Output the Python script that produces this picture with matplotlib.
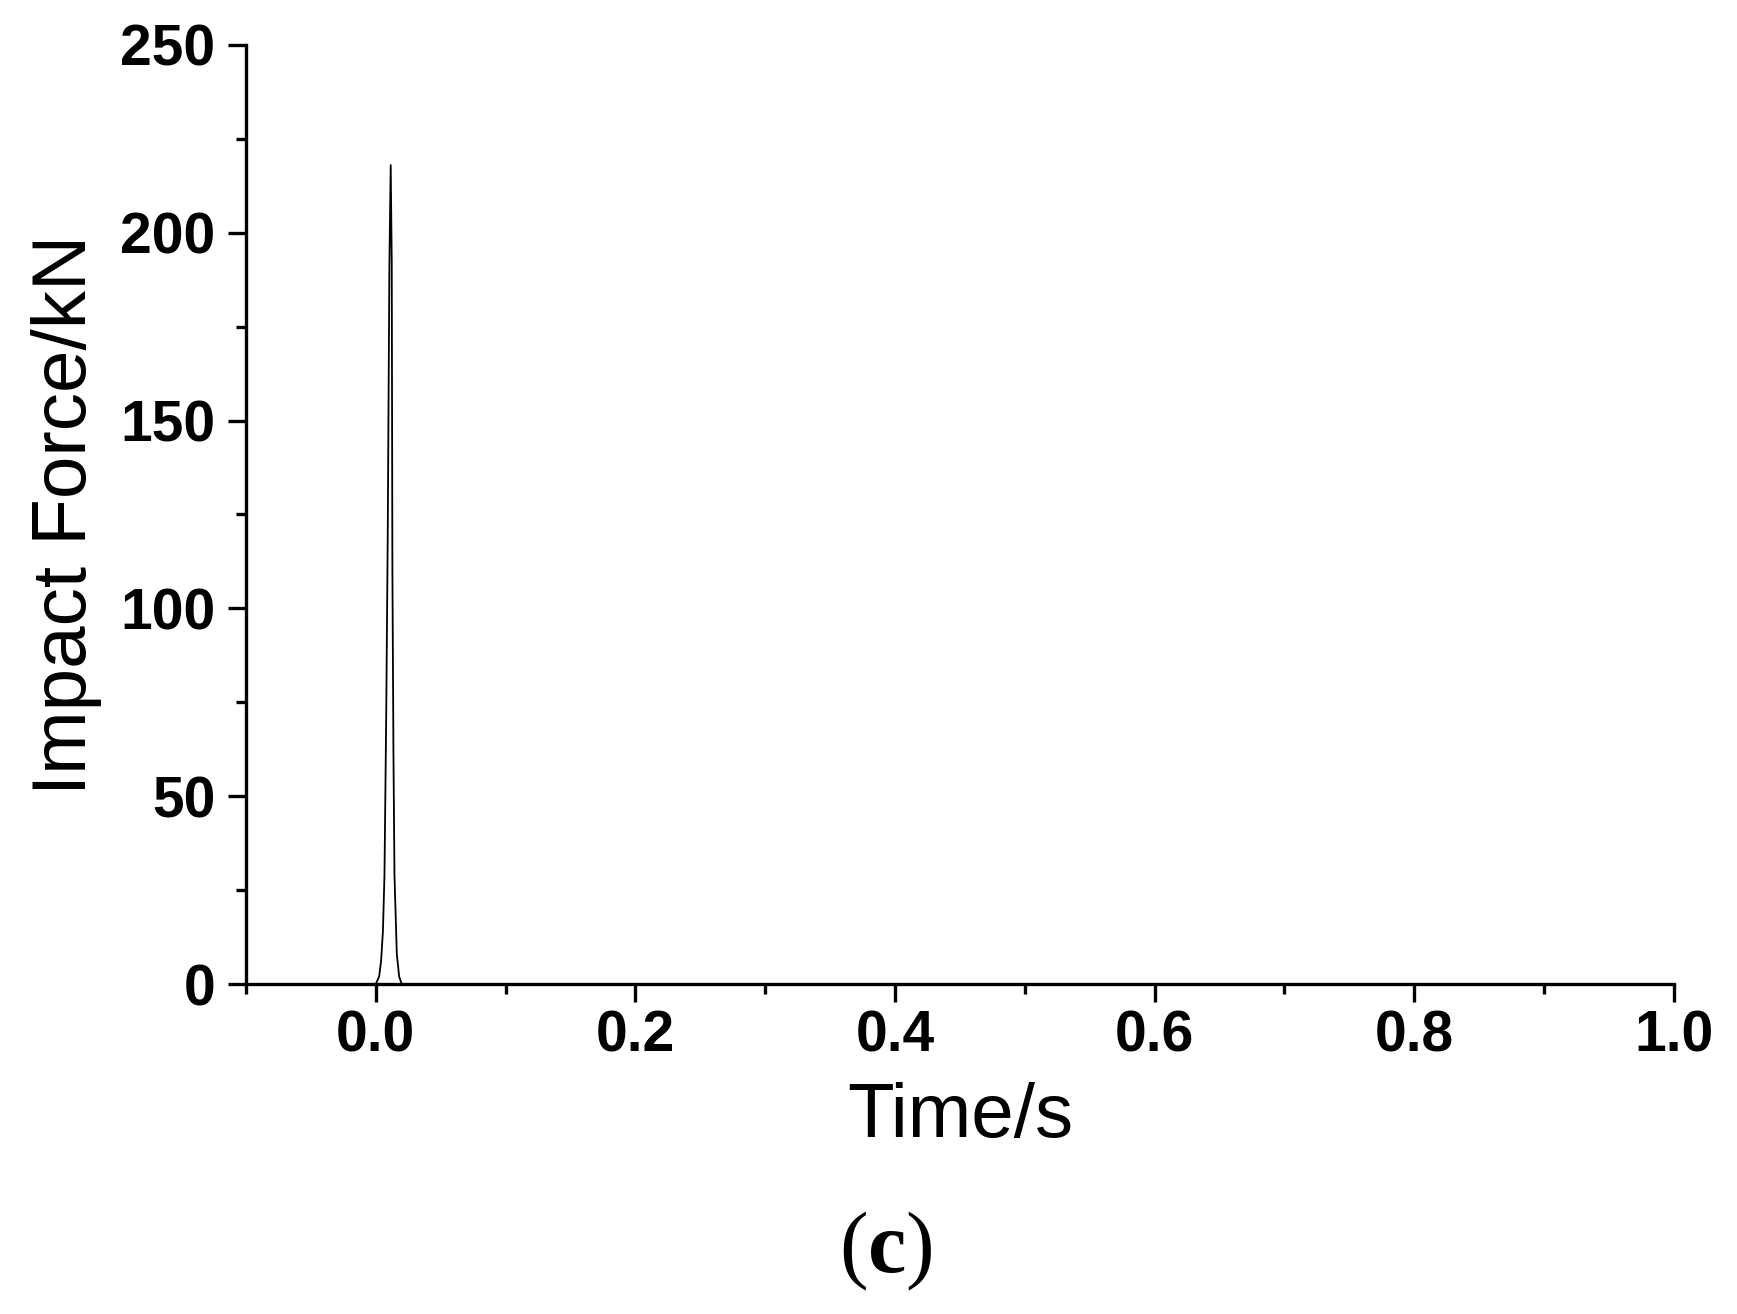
import numpy as np
import matplotlib
matplotlib.use('Agg')
import matplotlib.pyplot as plt
from matplotlib.ticker import MultipleLocator

plt.rcParams['mathtext.fontset'] = 'custom'
plt.rcParams['mathtext.rm'] = 'Liberation Serif'
plt.rcParams['mathtext.bf'] = 'Liberation Serif:bold'

# impact force pulse (time in s, force in kN)
time = [0.0, 0.0026, 0.0041, 0.0055, 0.0067, 0.0080, 0.0092, 0.0105, 0.0115,
        0.0123, 0.0128, 0.0136, 0.0144, 0.0162, 0.0180, 0.0200, 0.2, 0.4, 0.6, 0.8, 1.0]
force = [0.0, 2.0, 6.2, 14.0, 29.0, 70.0, 119.0, 192.0, 218.0,
         192.0, 111.0, 62.0, 29.0, 8.0, 2.0, 0.0, 0.0, 0.0, 0.0, 0.0, 0.0]

xticks = [0.0, 0.2, 0.4, 0.6, 0.8, 1.0]
yticks = [0, 50, 100, 150, 200, 250]

fig = plt.figure(figsize=(17.37, 13.14), dpi=100)
ax = fig.add_axes([0.1416, 0.2511, 0.8221, 0.7147])

ax.plot(time, force, color='black', lw=1.3, zorder=3)

ax.set_xlim(-0.1, 1.0)
ax.set_ylim(0, 250)
ax.set_xticks(xticks)
ax.set_yticks(yticks)
ax.xaxis.set_minor_locator(MultipleLocator(0.1))
ax.yaxis.set_minor_locator(MultipleLocator(25))

for s in ['top', 'right']:
    ax.spines[s].set_visible(False)
for s in ['left', 'bottom']:
    ax.spines[s].set_linewidth(2.4)

ax.tick_params(which='major', direction='out', length=13, width=2.4)
ax.tick_params(which='minor', direction='out', length=7, width=2.4)
ax.tick_params(axis='x', which='major', pad=5)
ax.tick_params(axis='y', which='major', pad=9)

ax.set_xticklabels(['0.0', '0.2', '0.4', '0.6', '0.8', '1.0'])
for lab in ax.get_xticklabels() + ax.get_yticklabels():
    lab.set_fontfamily('Liberation Sans')
    lab.set_fontweight('bold')
    lab.set_fontsize(41)

ax.set_xlabel('Time/s', fontfamily='Liberation Sans', fontsize=55, labelpad=14)
ax.set_ylabel('Impact Force/kN', fontfamily='Liberation Sans', fontsize=55, labelpad=13)

fig.text(886 / 1737, 1 - 1251 / 1314, r'($\mathbf{c}$)', ha='center', va='center',
         fontfamily='Liberation Serif', fontsize=62)

fig.savefig('out.png', dpi=100)
